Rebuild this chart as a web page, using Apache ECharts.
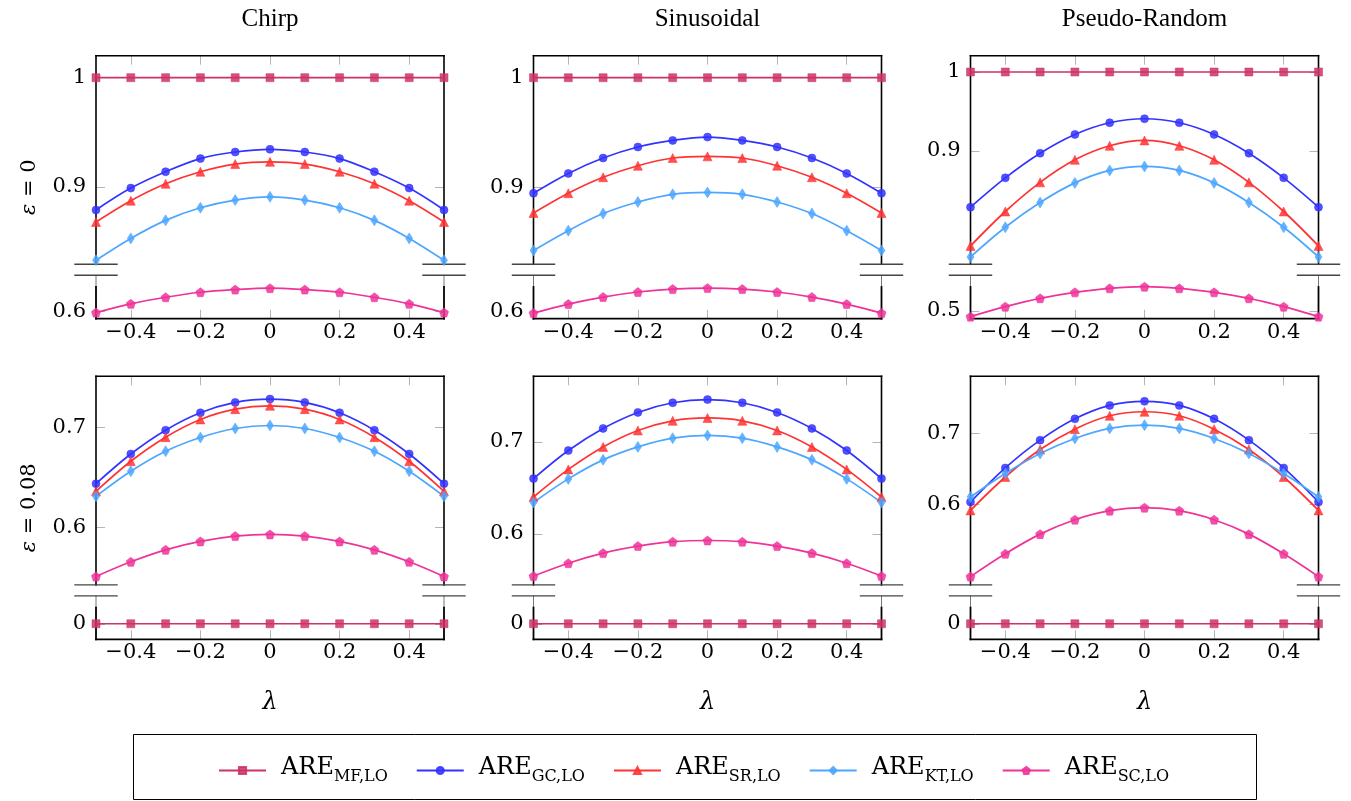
<!DOCTYPE html>
<html><head><meta charset="utf-8">
<script src="https://cdn.jsdelivr.net/npm/echarts@6/dist/echarts.min.js"></script>
<style>html,body{margin:0;padding:0;background:#fff}#c{width:1351px;height:801px}</style>
</head><body><div id="c"></div><script>
// ---------- data ----------
const lambda = [-0.5,-0.4,-0.3,-0.2,-0.1,0,0.1,0.2,0.3,0.4,0.5];
const xTickValues = [-0.4,-0.2,0,0.2,0.4];
const colTitles = ['Chirp','Sinusoidal','Pseudo-Random'];
const rowEps = ['0','0.08'];
const methods = ['MF,LO','GC,LO','SR,LO','KT,LO','SC,LO'];

// eps = 0
const chirp0_MF = [1,1,1,1,1,1,1,1,1,1,1];
const chirp0_GC = [0.879,0.899,0.914,0.926,0.932,0.9345,0.932,0.926,0.914,0.899,0.879];
const chirp0_SR = [0.868,0.8875,0.903,0.914,0.921,0.923,0.921,0.914,0.903,0.8875,0.868];
const chirp0_KT = [0.833,0.853,0.8695,0.881,0.888,0.891,0.888,0.881,0.8695,0.853,0.833];
const chirp0_SC = [0.599,0.607,0.613,0.6176,0.620,0.6213,0.620,0.6176,0.613,0.607,0.599];

const sin0_MF = [1,1,1,1,1,1,1,1,1,1,1];
const sin0_GC = [0.895,0.913,0.927,0.937,0.943,0.946,0.943,0.937,0.927,0.913,0.895];
const sin0_SR = [0.877,0.895,0.9095,0.920,0.927,0.9285,0.927,0.920,0.9095,0.895,0.877];
const sin0_KT = [0.843,0.861,0.8765,0.887,0.894,0.8957,0.894,0.887,0.8765,0.861,0.843];
const sin0_SC = [0.5985,0.6068,0.6132,0.6178,0.6205,0.6214,0.6205,0.6178,0.6132,0.6068,0.5985];

const pr0_MF = [1,1,1,1,1,1,1,1,1,1,1];
const pr0_GC = [0.8285,0.8657,0.897,0.9208,0.9356,0.9407,0.9356,0.9208,0.897,0.8657,0.8285];
const pr0_SR = [0.7793,0.823,0.860,0.8886,0.9064,0.9132,0.9064,0.8886,0.860,0.823,0.7793];
const pr0_KT = [0.7653,0.803,0.8344,0.8593,0.8751,0.8802,0.8751,0.8593,0.8344,0.803,0.7653];
const pr0_SC = [0.4928,0.5055,0.5161,0.5237,0.5288,0.5309,0.5288,0.5237,0.5161,0.5055,0.4928];

// eps = 0.08
const chirp8_MF = [0,0,0,0,0,0,0,0,0,0,0];
const chirp8_GC = [0.6435,0.6732,0.697,0.7144,0.7248,0.7281,0.7248,0.7144,0.697,0.6732,0.6435];
const chirp8_SR = [0.6358,0.6659,0.690,0.7077,0.718,0.7214,0.718,0.7077,0.690,0.6659,0.6358];
const chirp8_KT = [0.6308,0.6559,0.6759,0.6897,0.6987,0.7017,0.6987,0.6897,0.6759,0.6559,0.6308];
const chirp8_SC = [0.5506,0.5653,0.5773,0.5857,0.591,0.5927,0.591,0.5857,0.5773,0.5653,0.5506];

const sin8_MF = [0,0,0,0,0,0,0,0,0,0,0];
const sin8_GC = [0.660,0.6906,0.7146,0.732,0.7425,0.746,0.7425,0.732,0.7146,0.6906,0.660];
const sin8_SR = [0.640,0.670,0.6945,0.7124,0.7229,0.726,0.7229,0.7124,0.6945,0.670,0.640];
const sin8_KT = [0.634,0.6597,0.6804,0.6945,0.704,0.707,0.704,0.6945,0.6804,0.6597,0.634];
const sin8_SC = [0.554,0.568,0.579,0.5866,0.5914,0.5927,0.5914,0.5866,0.579,0.568,0.554];

const pr8_MF = [0,0,0,0,0,0,0,0,0,0,0];
const pr8_GC = [0.6036,0.6513,0.6902,0.72,0.7388,0.7445,0.7388,0.72,0.6902,0.6513,0.6036];
const pr8_SR = [0.592,0.6387,0.6771,0.7056,0.7243,0.7299,0.7243,0.7056,0.6771,0.6387,0.592];
const pr8_KT = [0.6107,0.6435,0.6715,0.6926,0.7066,0.7112,0.7066,0.6926,0.6715,0.6435,0.6107];
const pr8_SC = [0.4994,0.5313,0.5588,0.579,0.5916,0.5958,0.5916,0.579,0.5588,0.5313,0.4994];

// axis ranges and tick values per panel (upper part / lower part of broken axis)
const upperRanges = [[0.8293,1.0201],[0.8304,1.02],[0.756,1.0207],[0.5422,0.7509],[0.5444,0.7713],[0.4878,0.7795]];
const lowerRanges = [[0.5934,0.6331],[0.5934,0.6331],[0.4902,0.5454],[-0.0154,0.0276],[-0.0154,0.0276],[-0.0154,0.0276]];
const upperTicks = [[0.9,1],[0.9,1],[0.9,1],[0.6,0.7],[0.6,0.7],[0.6,0.7]];
const lowerTicks = [[0.6],[0.6],[0.5],[0],[0],[0]];

const panelData = [
  [chirp0_MF,chirp0_GC,chirp0_SR,chirp0_KT,chirp0_SC],
  [sin0_MF,sin0_GC,sin0_SR,sin0_KT,sin0_SC],
  [pr0_MF,pr0_GC,pr0_SR,pr0_KT,pr0_SC],
  [chirp8_MF,chirp8_GC,chirp8_SR,chirp8_KT,chirp8_SC],
  [sin8_MF,sin8_GC,sin8_SR,sin8_KT,sin8_SC],
  [pr8_MF,pr8_GC,pr8_SR,pr8_KT,pr8_SC]
];

// ---------- styles ----------
const colors = ['#cc3366','#3333ff','#ff3333','#4da6ff','#ee3399'];
const pentagon = 'path://M0,-1 L0.951,-0.309 L0.588,0.809 L-0.588,0.809 L-0.951,-0.309 Z';
const symbols = ['rect','circle','triangle','diamond',pentagon];
const symbolSizes = [8,8,9,[7,11],9];
const NUMFONT = 'DejaVu Serif';
const TXTFONT = 'Liberation Serif';

const L = {cols:[96,533.5,970.5], w:348, rows:[55.7,376.3], uh:208.6, gap:11, thick:22.7, h:263};

const numFmt = v => (v < 0 ? '\u2212' : '') + String(Math.abs(+(+v).toFixed(3)));
const tickStyle = (vals) => ({show:true, inside:true, length:9, customValues:vals, lineStyle:{color:'#b5b5b5', width:1}});
const labelStyle = (vals, show, margin) => ({show:show, customValues:vals, formatter:numFmt, margin:margin,
  fontFamily:NUMFONT, fontSize:21, color:'#000'});

const grids=[], xAxes=[], yAxes=[], series=[], graphics=[];
const line = (x1,y1,x2,y2,stroke,w) => ({type:'line', silent:true, z:1,
  shape:{x1,y1,x2,y2}, style:{stroke, lineWidth:w, lineCap:'square'}});

for (let r=0;r<2;r++){
  for (let c=0;c<3;c++){
    const p = r*3+c;
    const x0 = L.cols[c], x1 = x0+L.w, top = L.rows[r];
    const ub = top+L.uh, lt = ub+L.gap, ts = ub+L.thick, bot = top+L.h;
    const gU = 2*p, gL = 2*p+1;
    grids.push({left:x0, top:top, width:L.w, height:L.uh});
    grids.push({left:x0, top:lt, width:L.w, height:bot-lt});
    xAxes.push({gridIndex:gU, type:'value', min:-0.5, max:0.5, position:'top',
      axisLine:{show:false,onZero:false}, axisTick:tickStyle(xTickValues),
      axisLabel:{show:false}, splitLine:{show:false}});
    xAxes.push({gridIndex:gL, type:'value', min:-0.5, max:0.5, position:'bottom',
      axisLine:{show:false,onZero:false}, axisTick:tickStyle(xTickValues),
      axisLabel:labelStyle(xTickValues,true,3), splitLine:{show:false}});
    const yax = (g, rng, ticks, pos, showLab) => ({gridIndex:g, type:'value', min:rng[0], max:rng[1], position:pos,
      axisLine:{show:false,onZero:false}, axisTick:tickStyle(ticks),
      axisLabel:labelStyle(ticks,showLab,10), splitLine:{show:false}});
    yAxes.push(yax(gU, upperRanges[p], upperTicks[p], 'left', true));
    yAxes.push(yax(gU, upperRanges[p], upperTicks[p], 'right', false));
    yAxes.push(yax(gL, lowerRanges[p], lowerTicks[p], 'left', true));
    yAxes.push(yax(gL, lowerRanges[p], lowerTicks[p], 'right', false));

    methods.forEach((m,k) => {
      const isLower = (r===0) ? (k===4) : (k===0);
      const g = isLower ? gL : gU;
      series.push({name:m, type:'line', xAxisIndex:g, yAxisIndex:2*g, clip:false, z:3,
        data: lambda.map((x,i)=>[x, panelData[p][k][i]]),
        smooth:0.35, symbol:symbols[k], symbolSize:symbolSizes[k],
        lineStyle:{color:colors[k], width:1.7},
        itemStyle:{color:colors[k], opacity:0.85, borderColor:colors[k], borderWidth:0.6}});
    });

    // frame
    graphics.push(line(x0,top,x1,top,'#000',1.6));
    graphics.push(line(x0,top,x0,ub,'#000',1.6));
    graphics.push(line(x1,top,x1,ub,'#000',1.6));
    graphics.push(line(x0,lt,x0,ts,'#777',1));
    graphics.push(line(x1,lt,x1,ts,'#777',1));
    graphics.push(line(x0,ts,x0,bot,'#000',1.8));
    graphics.push(line(x1,ts,x1,bot,'#000',1.8));
    graphics.push(line(x0,bot,x1,bot,'#000',1.8));
    // break marks
    [x0,x1].forEach(xx => {
      graphics.push(line(xx-21,ub,xx+21,ub,'#444',1.4));
      graphics.push(line(xx-21,lt,xx+21,lt,'#444',1.4));
    });
    if (r===0) {
      graphics.push({type:'text', x:x0+L.w/2, y:19, silent:true,
        style:{text:colTitles[c], font:'25px "'+TXTFONT+'"', fill:'#000',
          align:'center', verticalAlign:'middle', textAlign:'center', textVerticalAlign:'middle'}});
    } else {
      graphics.push({type:'text', x:x0+L.w/2, y:703, silent:true,
        style:{text:'\u03bb', font:'italic 24px "'+NUMFONT+'"', fill:'#000',
          align:'center', verticalAlign:'middle', textAlign:'center', textVerticalAlign:'middle'}});
    }
  }
  const cy = L.rows[r] + L.h/2;
  graphics.push({type:'text', x:30, y:cy, rotation:Math.PI/2, silent:true,
    style:{text:'{i|\u03b5}{n| = '+rowEps[r]+'}', fill:'#000',
      align:'center', verticalAlign:'middle', textAlign:'center', textVerticalAlign:'middle',
      rich:{i:{fontStyle:'italic', fontSize:21, fontFamily:NUMFONT, fill:'#000'},
            n:{fontSize:21, fontFamily:NUMFONT, fill:'#000'}}}});
}

// legend box
graphics.push({type:'rect', silent:true, z:0, shape:{x:133.5,y:734.5,width:1123,height:65},
  style:{fill:'#fff', stroke:'#000', lineWidth:1}});

const chart = echarts.init(document.getElementById('c'));
chart.setOption({
  animation:false,
  backgroundColor:'#fff',
  grid:grids, xAxis:xAxes, yAxis:yAxes, series:series,
  graphic:{elements:graphics},
  legend:{data:methods, left:213, top:751, itemWidth:47, itemHeight:9, itemGap:28,
    selectedMode:false,
    formatter: n => '{a|ARE}{s|' + n + '}',
    textStyle:{rich:{
      a:{fontFamily:NUMFONT, fontSize:24, color:'#000', padding:[0,0,5,10], verticalAlign:'bottom'},
      s:{fontFamily:NUMFONT, fontSize:16, color:'#000', verticalAlign:'bottom'}}}}
});
</script></body></html>
